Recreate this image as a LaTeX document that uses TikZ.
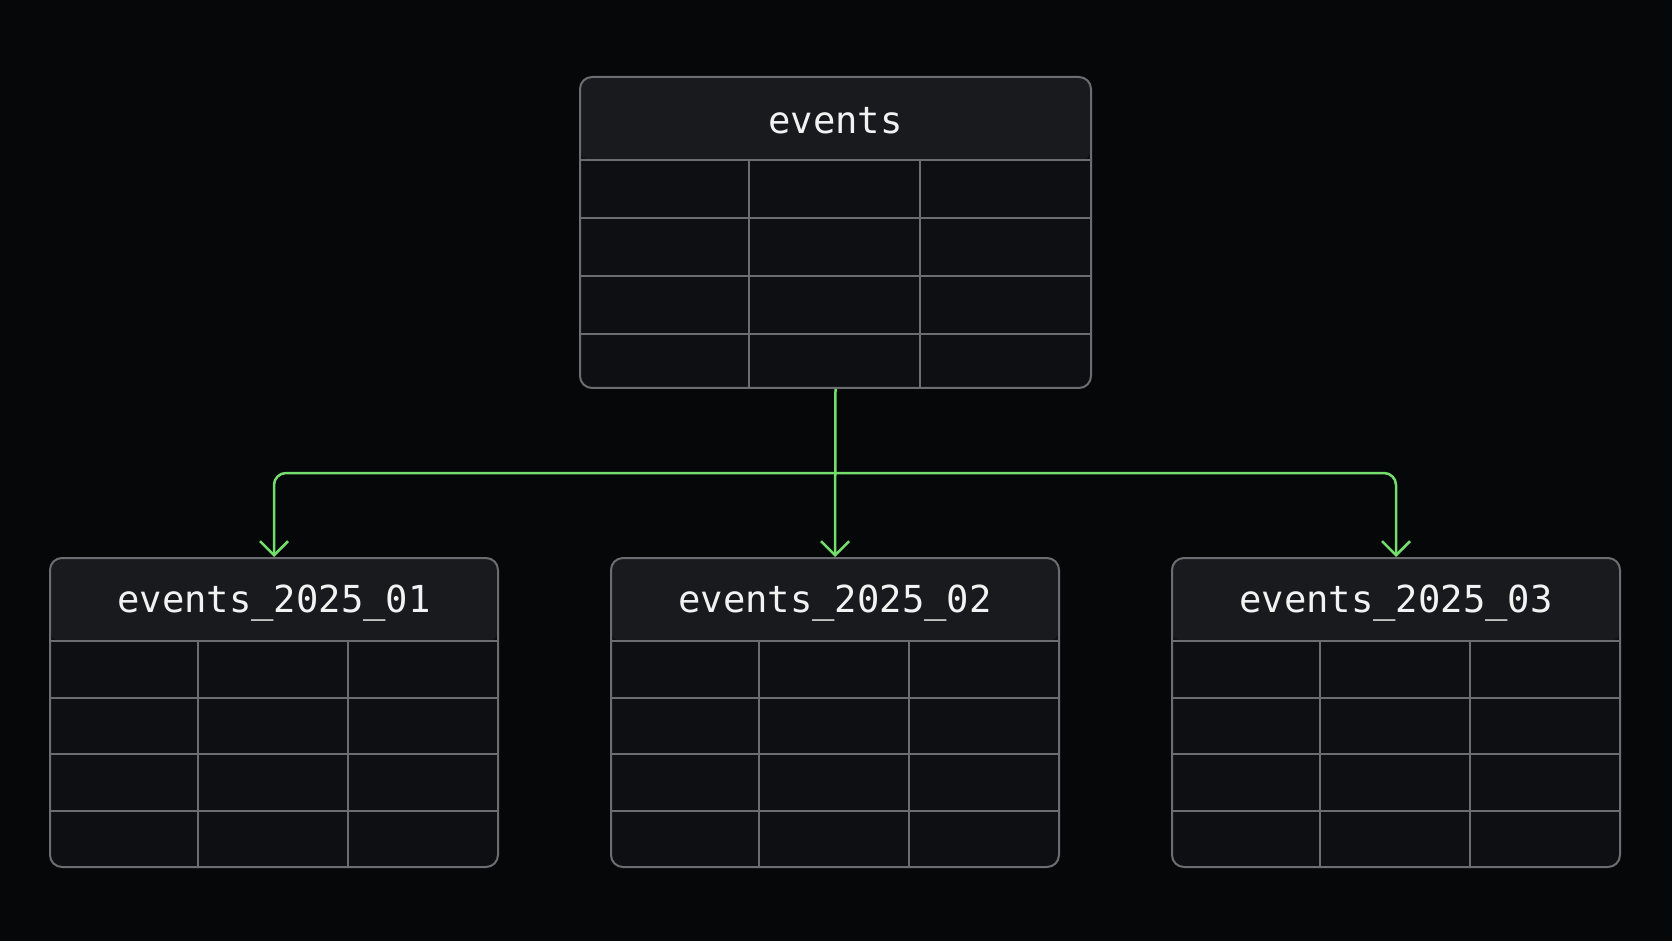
\documentclass[tikz,border=0pt]{standalone}
\usepackage{fontspec}
\setmonofont{DejaVu Sans Mono}
\usepackage{tikz}
\usetikzlibrary{calc, positioning, arrows.meta}
\definecolor{bgdark}{HTML}{060709}
\definecolor{headfill}{HTML}{191A1E}
\definecolor{bodyfill}{HTML}{0E0F12}
\definecolor{gridgray}{HTML}{6C6D71}
\definecolor{linkgreen}{HTML}{74DE6C}
\definecolor{titlewhite}{HTML}{F2F2F2}
\tikzset{
  tbl/.style={draw=gridgray, line width=1pt, rounded corners=6pt, fill=bodyfill, inner sep=0pt,
    path picture={\fill[headfill] (path picture bounding box.north west) rectangle ([yshift=-42pt]path picture bounding box.north east);}},
  gridline/.style={draw=gridgray, line width=1pt},
  title/.style={font=\ttfamily\fontsize{18.6}{18.6}\selectfont, text=titlewhite, text depth=0pt},
  link/.style={draw=linkgreen, line width=1.25pt, rounded corners=6pt,
    -{Straight Barb[length=7pt, width=14pt, line width=1.25pt]}}
}

\begin{document}
\begin{tikzpicture}[x=0.5pt, y=-0.5pt]
    \fill[bgdark] (0,0) rectangle (1672,941);
    \useasboundingbox (0,0) rectangle (1672,941);

    % parent table
    \node[tbl, minimum width=255.5pt, minimum height=155.5pt] (events) at (835.5,232.5) {};
    \node[title] (eventstitle) at ($(events.north)+(0,44)$) {events};
    \foreach \dy in {84,142,200,258}
        \draw[gridline] ($(events.north west)+(0,\dy)$) -- ($(events.north east)+(0,\dy)$);
    \foreach \dx in {170.3,340.7}
        \draw[gridline] ($(events.north west)+(\dx,84)$) -- ($(events.south west)+(\dx,0)$);

    % partitions
    \foreach \name/\cx/\label in {p1/274/events\_2025\_01, p2/835/events\_2025\_02, p3/1396/events\_2025\_03} {
        \node[tbl, minimum width=224pt, minimum height=154.5pt] (\name) at (\cx,712.5) {};
        \node[title] (\name title) at ($(\name.north)+(0,42)$) {\label};
        \foreach \dy in {84,141,197,254}
            \draw[gridline] ($(\name.north west)+(0,\dy)$) -- ($(\name.north east)+(0,\dy)$);
        \foreach \dx in {149.3,298.7}
            \draw[gridline] ($(\name.north west)+(\dx,84)$) -- ($(\name.south west)+(\dx,0)$);
    }

    % links
    \coordinate (split) at ($(events.south)+(0,84)$);
    \draw[link] (events.south) -- (p2.north);
    \draw[link] (split) -| (p1.north);
    \draw[link] (split) -| (p3.north);
\end{tikzpicture}
\end{document}
